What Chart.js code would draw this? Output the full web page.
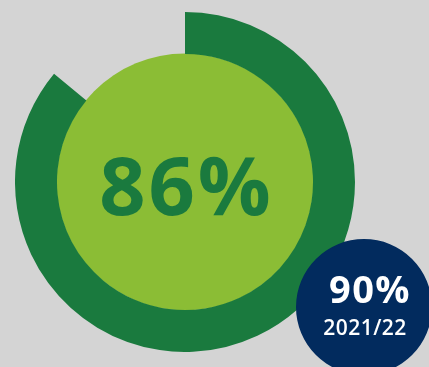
<!DOCTYPE html>
<html>
<head>
<meta charset="utf-8">
<script src="https://cdn.jsdelivr.net/npm/chart.js@4"></script>
<style>
  html, body { margin: 0; padding: 0; width: 429px; height: 367px; overflow: hidden; background: #d4d4d4; }
  #wrap { position: relative; width: 429px; height: 367px; overflow: hidden; }
  #main { position: absolute; left: 15px; top: 12px; }
  #badge { position: absolute; left: 296px; top: 239px; }
</style>
</head>
<body>
<div id="wrap">
  <canvas id="main" width="340" height="340"></canvas>
  <canvas id="badge" width="136" height="136"></canvas>
</div>
<script>
// Data
const categories = ['Achieved', 'Remaining'];
const currentValues = [86, 14];
const currentLabel = ['86%'];
const previousValues = [90];
const previousLabels = ['90%', '2021/22'];

const DARK_GREEN = '#1a7a3e';
const LIGHT_GREEN = '#8bbd35';
const NAVY = '#022b5e';

const innerFill = {
  id: 'innerFill',
  beforeDatasetsDraw(chart) {
    const arc = chart.getDatasetMeta(0).data[0];
    const ctx = chart.ctx;
    ctx.save();
    ctx.fillStyle = LIGHT_GREEN;
    ctx.beginPath();
    ctx.arc(arc.x, arc.y, arc.innerRadius + 0.5, 0, Math.PI * 2);
    ctx.fill();
    ctx.restore();
  },
  afterDraw(chart) {
    const arc = chart.getDatasetMeta(0).data[0];
    const ctx = chart.ctx;
    ctx.save();
    ctx.fillStyle = DARK_GREEN;
    ctx.font = 'bold 81px "Open Sans"';
    ctx.letterSpacing = '3px';
    ctx.textAlign = 'center';
    ctx.textBaseline = 'alphabetic';
    ctx.fillText(currentLabel[0], arc.x + 1.5, arc.y + 33);
    ctx.restore();
  }
};

new Chart(document.getElementById('main'), {
  type: 'doughnut',
  data: {
    labels: categories,
    datasets: [{
      data: currentValues,
      backgroundColor: [DARK_GREEN, 'rgba(0,0,0,0)'],
      borderWidth: 0,
      hoverOffset: 0
    }]
  },
  options: {
    responsive: false,
    animation: false,
    devicePixelRatio: 1,
    cutout: '75.3%',
    rotation: 0,
    layout: { padding: 0 },
    plugins: { legend: { display: false }, tooltip: { enabled: false } }
  },
  plugins: [innerFill]
});

const badgeText = {
  id: 'badgeText',
  afterDraw(chart) {
    const arc = chart.getDatasetMeta(0).data[0];
    const ctx = chart.ctx;
    ctx.save();
    ctx.fillStyle = '#ffffff';
    ctx.textAlign = 'center';
    ctx.textBaseline = 'alphabetic';
    ctx.font = 'bold 38px "Open Sans"';
    ctx.letterSpacing = '1.5px';
    ctx.fillText(previousLabels[0], arc.x + 6, arc.y - 4);
    ctx.font = '600 21px "Open Sans"';
    ctx.letterSpacing = '0.5px';
    ctx.fillText(previousLabels[1], arc.x + 1, arc.y + 28);
    ctx.restore();
  }
};

new Chart(document.getElementById('badge'), {
  type: 'pie',
  data: {
    labels: ['2021/22'],
    datasets: [{
      data: previousValues,
      backgroundColor: [NAVY],
      borderWidth: 0,
      hoverOffset: 0
    }]
  },
  options: {
    responsive: false,
    animation: false,
    devicePixelRatio: 1,
    layout: { padding: 0 },
    plugins: { legend: { display: false }, tooltip: { enabled: false } }
  },
  plugins: [badgeText]
});
</script>
</body>
</html>
